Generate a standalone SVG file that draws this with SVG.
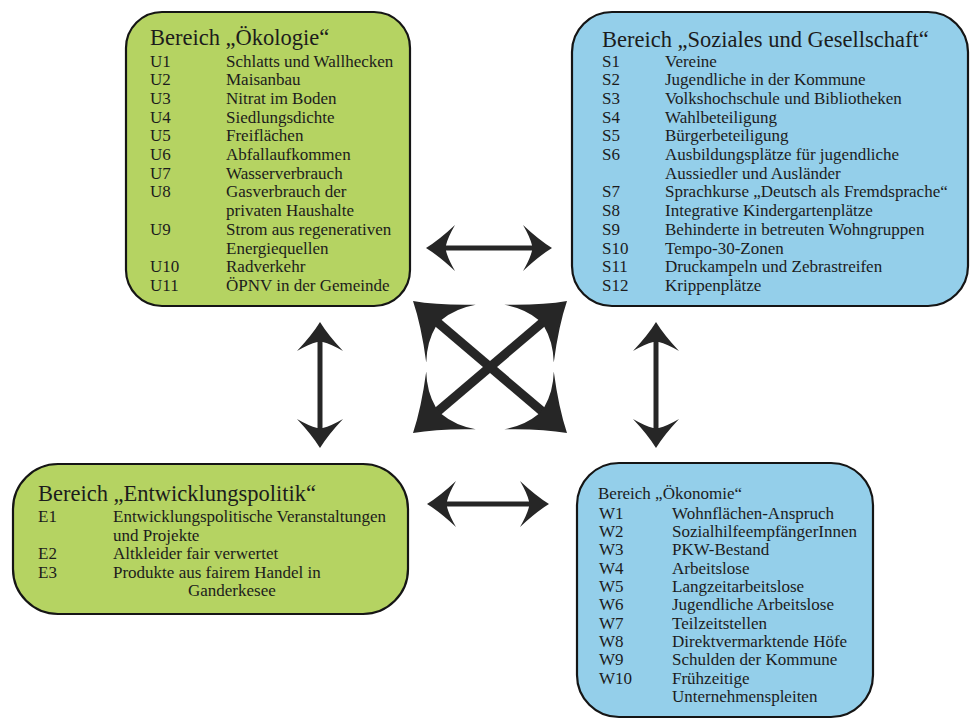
<svg xmlns="http://www.w3.org/2000/svg" xmlns:xlink="http://www.w3.org/1999/xlink" width="971" height="726" viewBox="0 0 971 726">
<style>
.box{stroke:#151515;stroke-width:2.2}
.g{fill:#b5d362}
.b{fill:#94cfea}
.tx{font-family:'Liberation Serif','DejaVu Serif',serif;fill:#1c1c1c}
.h{font-size:22.5px}
.i{font-size:17px}
.arr{fill:#262626}
.shs{stroke:#262626;stroke-width:5;fill:none}
.shb{stroke:#262626;stroke-width:9;fill:none}
</style>
<defs>
<path id="hs" d="M0,0 Q13,-8 29,-23 Q22,-11 20,-2.8 L20,2.8 Q22,11 29,23 Q13,8 0,0Z"/>
<path id="hb" d="M0,0 Q22,-13 50,-38 Q37,-22 34,-4.5 L34,4.5 Q37,22 50,38 Q22,13 0,0Z"/>
</defs>
<rect width="971" height="726" fill="#ffffff"/>

<g id="oekologie">
<rect class="box g" x="126" y="12" width="284" height="294" rx="36"/>
<g class="tx" font-family="Liberation Serif, DejaVu Serif, serif">
<text class="h" x="150" y="45">Bereich „Ökologie“</text>
<text class="i" x="150" y="66.5">U1</text><text class="i" x="226" y="66.5">Schlatts und Wallhecken</text>
<text class="i" x="150" y="85.2">U2</text><text class="i" x="226" y="85.2">Maisanbau</text>
<text class="i" x="150" y="103.9">U3</text><text class="i" x="226" y="103.9">Nitrat im Boden</text>
<text class="i" x="150" y="122.6">U4</text><text class="i" x="226" y="122.6">Siedlungsdichte</text>
<text class="i" x="150" y="141.3">U5</text><text class="i" x="226" y="141.3">Freiflächen</text>
<text class="i" x="150" y="160">U6</text><text class="i" x="226" y="160">Abfallaufkommen</text>
<text class="i" x="150" y="178.7">U7</text><text class="i" x="226" y="178.7">Wasserverbrauch</text>
<text class="i" x="150" y="197.4">U8</text><text class="i" x="226" y="197.4">Gasverbrauch der</text>
<text class="i" x="226" y="216.1">privaten Haushalte</text>
<text class="i" x="150" y="234.8">U9</text><text class="i" x="226" y="234.8">Strom aus regenerativen</text>
<text class="i" x="226" y="253.5">Energiequellen</text>
<text class="i" x="150" y="272.2">U10</text><text class="i" x="226" y="272.2">Radverkehr</text>
<text class="i" x="150" y="290.9">U11</text><text class="i" x="226" y="290.9">ÖPNV in der Gemeinde</text>
</g>
</g>

<g id="soziales">
<rect class="box b" x="572" y="12" width="396" height="294" rx="40"/>
<g class="tx" font-family="Liberation Serif, DejaVu Serif, serif">
<text class="h" x="602" y="47">Bereich „Soziales und Gesellschaft“</text>
<text class="i" x="602" y="66.5">S1</text><text class="i" x="665" y="66.5">Vereine</text>
<text class="i" x="602" y="85.2">S2</text><text class="i" x="665" y="85.2">Jugendliche in der Kommune</text>
<text class="i" x="602" y="103.9">S3</text><text class="i" x="665" y="103.9">Volkshochschule und Bibliotheken</text>
<text class="i" x="602" y="122.6">S4</text><text class="i" x="665" y="122.6">Wahlbeteiligung</text>
<text class="i" x="602" y="141.3">S5</text><text class="i" x="665" y="141.3">Bürgerbeteiligung</text>
<text class="i" x="602" y="160">S6</text><text class="i" x="665" y="160">Ausbildungsplätze für jugendliche</text>
<text class="i" x="665" y="178.7">Aussiedler und Ausländer</text>
<text class="i" x="602" y="197.4">S7</text><text class="i" x="665" y="197.4">Sprachkurse „Deutsch als Fremdsprache“</text>
<text class="i" x="602" y="216.1">S8</text><text class="i" x="665" y="216.1">Integrative Kindergartenplätze</text>
<text class="i" x="602" y="234.8">S9</text><text class="i" x="665" y="234.8">Behinderte in betreuten Wohngruppen</text>
<text class="i" x="602" y="253.5">S10</text><text class="i" x="665" y="253.5">Tempo-30-Zonen</text>
<text class="i" x="602" y="272.2">S11</text><text class="i" x="665" y="272.2">Druckampeln und Zebrastreifen</text>
<text class="i" x="602" y="290.9">S12</text><text class="i" x="665" y="290.9">Krippenplätze</text>
</g>
</g>

<g id="entwicklungspolitik">
<rect class="box g" x="13" y="464" width="395" height="150" rx="45"/>
<g class="tx" font-family="Liberation Serif, DejaVu Serif, serif">
<text class="h" x="38" y="501">Bereich „Entwicklungspolitik“</text>
<text class="i" x="38" y="522">E1</text><text class="i" x="113" y="522">Entwicklungspolitische Veranstaltungen</text>
<text class="i" x="113" y="540.5">und Projekte</text>
<text class="i" x="38" y="559">E2</text><text class="i" x="113" y="559">Altkleider fair verwertet</text>
<text class="i" x="38" y="577.5">E3</text><text class="i" x="113" y="577.5">Produkte aus fairem Handel in</text>
<text class="i" x="188" y="596">Ganderkesee</text>
</g>
</g>

<g id="oekonomie">
<rect class="box b" x="577" y="463" width="296" height="254" rx="42"/>
<g class="tx" font-family="Liberation Serif, DejaVu Serif, serif">
<text class="i" x="598" y="499">Bereich „Ökonomie“</text>
<text class="i" x="599" y="518.5">W1</text><text class="i" x="672" y="518.5">Wohnflächen-Anspruch</text>
<text class="i" x="599" y="536.9">W2</text><text class="i" x="672" y="536.9">SozialhilfeempfängerInnen</text>
<text class="i" x="599" y="555.2">W3</text><text class="i" x="672" y="555.2">PKW-Bestand</text>
<text class="i" x="599" y="573.6">W4</text><text class="i" x="672" y="573.6">Arbeitslose</text>
<text class="i" x="599" y="591.9">W5</text><text class="i" x="672" y="591.9">Langzeitarbeitslose</text>
<text class="i" x="599" y="610.3">W6</text><text class="i" x="672" y="610.3">Jugendliche Arbeitslose</text>
<text class="i" x="599" y="628.6">W7</text><text class="i" x="672" y="628.6">Teilzeitstellen</text>
<text class="i" x="599" y="647">W8</text><text class="i" x="672" y="647">Direktvermarktende Höfe</text>
<text class="i" x="599" y="665.3">W9</text><text class="i" x="672" y="665.3">Schulden der Kommune</text>
<text class="i" x="599" y="683.7">W10</text><text class="i" x="672" y="683.7">Frühzeitige</text>
<text class="i" x="672" y="702">Unternehmenspleiten</text>
</g>
</g>

<g id="connectors">
<line class="shs" x1="440" y1="248" x2="538" y2="248"/>
<use class="arr" xlink:href="#hs" transform="translate(426,248)"/>
<use class="arr" xlink:href="#hs" transform="translate(552,248) rotate(180)"/>

<line class="shs" x1="441" y1="504" x2="535" y2="504"/>
<use class="arr" xlink:href="#hs" transform="translate(427,504)"/>
<use class="arr" xlink:href="#hs" transform="translate(549,504) rotate(180)"/>

<line class="shs" x1="320" y1="336" x2="320" y2="434"/>
<use class="arr" xlink:href="#hs" transform="translate(320,322) rotate(90)"/>
<use class="arr" xlink:href="#hs" transform="translate(320,448) rotate(-90)"/>

<line class="shs" x1="656" y1="336" x2="656" y2="434"/>
<use class="arr" xlink:href="#hs" transform="translate(656,322) rotate(90)"/>
<use class="arr" xlink:href="#hs" transform="translate(656,448) rotate(-90)"/>

<line class="shb" x1="430" y1="316" x2="550" y2="418"/>
<line class="shb" x1="550" y1="316" x2="430" y2="418"/>
<use class="arr" xlink:href="#hb" transform="translate(413,301) rotate(40.6)"/>
<use class="arr" xlink:href="#hb" transform="translate(567,433) rotate(220.6)"/>
<use class="arr" xlink:href="#hb" transform="translate(567,301) rotate(139.4)"/>
<use class="arr" xlink:href="#hb" transform="translate(413,433) rotate(-40.6)"/>
</g>
</svg>
